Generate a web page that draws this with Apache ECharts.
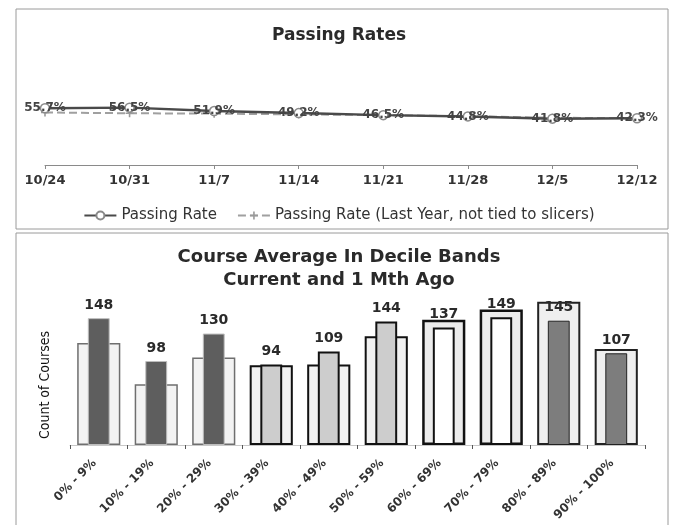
<!DOCTYPE html>
<html><head><meta charset="utf-8">
<script src="https://cdn.jsdelivr.net/npm/echarts@6/dist/echarts.min.js"></script>
<style>html,body{margin:0;padding:0;background:#fff}#c{width:678px;height:525px}</style>
</head><body><div id="c"></div>
<script>
const weeks = ['10/24','10/31','11/7','11/14','11/21','11/28','12/5','12/12'];
const passingRate = [55.7, 56.5, 51.9, 49.2, 46.5, 44.8, 41.8, 42.3];
const passingRateLastYear = [50.0, 49.0, 48.5, 47.5, 46.5, 45.0, 43.0, 42.5];

const bands = ['0% - 9%','10% - 19%','20% - 29%','30% - 39%','40% - 49%','50% - 59%','60% - 69%','70% - 79%','80% - 89%','90% - 100%'];
const current = [148, 98, 130, 94, 109, 144, 137, 149, 145, 107];
const oneMonthAgo = [119, 71, 102, 93, 94, 127, 146, 158, 167, 112];

// style group per band (0: dark, 1: speckled light, 2: white outlined, 3: mid grey)
const bandGroup = [0,0,0,1,1,1,2,2,3,3];
const narrowStyles = [
  {color:'#5e5e5e', borderColor:'#bdbdbd', borderWidth:1},
  {color:'#cdcdcd', borderColor:'#111', borderWidth:2},
  {color:'#ffffff', borderColor:'#111', borderWidth:2},
  {color:'#7d7d7d', borderColor:'#222', borderWidth:1}
];
const wideStyles = [
  {color:'#f3f3f3', borderColor:'#6f6f6f', borderWidth:1.5},
  {color:'#f1f1f1', borderColor:'#111', borderWidth:2},
  {color:'#ececec', borderColor:'#111', borderWidth:2.5},
  {color:'#efefef', borderColor:'#222', borderWidth:2}
];

const chart = echarts.init(document.getElementById('c'), null, {renderer:'canvas'});
chart.setOption({
  backgroundColor:'#fff',
  animation:false,
  title:[
    {text:'Passing Rates', left:'center', top:22, textStyle:{fontFamily:'DejaVu Sans', fontWeight:'bold', fontSize:17, color:'#2a2a2a'}},
    {text:'Course Average In Decile Bands\nCurrent and 1 Mth Ago', left:'center', top:241,
     textStyle:{fontFamily:'DejaVu Sans', fontWeight:'bold', fontSize:18, lineHeight:23, color:'#2a2a2a'}}
  ],
  legend:{
    top:203, left:'center', itemGap:20, itemWidth:32, itemHeight:10,
    textStyle:{fontFamily:'DejaVu Sans', fontSize:15, color:'#333'},
    data:['Passing Rate','Passing Rate (Last Year, not tied to slicers)']
  },
  graphic:[
    {type:'rect', shape:{x:16, y:9, width:652, height:220}, style:{fill:'none', stroke:'#9a9a9a', lineWidth:1}, silent:true, z:-1},
    {type:'rect', shape:{x:16, y:233, width:652, height:300}, style:{fill:'none', stroke:'#9a9a9a', lineWidth:1}, silent:true, z:-1}
  ],
  grid:[
    {left:45, right:41, top:60, bottom:360, outerBoundsMode:'none', containLabel:false},
    {left:70, right:33, top:295, bottom:80, outerBoundsMode:'none', containLabel:false}
  ],
  xAxis:[
    {type:'category', gridIndex:0, data:weeks, boundaryGap:false,
     axisLine:{onZero:false, lineStyle:{color:'#8a8a8a', width:1}},
     axisTick:{show:true, length:4, lineStyle:{color:'#8a8a8a'}},
     axisLabel:{fontFamily:'DejaVu Sans', fontWeight:'bold', fontSize:13, color:'#333', margin:9}},
    {type:'category', gridIndex:1, data:bands,
     axisLine:{onZero:false, lineStyle:{color:'#c8c8c8'}},
     axisTick:{show:true, length:4, lineStyle:{color:'#555'}},
     axisLabel:{rotate:45, fontFamily:'DejaVu Sans', fontWeight:'bold', fontSize:12, color:'#333', margin:12, interval:0, padding:[0,6,0,0]}},
    {type:'category', gridIndex:1, data:bands, show:false}
  ],
  yAxis:[
    {type:'value', gridIndex:0, min:-20, max:120, show:false, splitLine:{show:false}},
    {type:'value', gridIndex:1, min:0, max:175, axisLabel:{show:false}, axisLine:{show:false}, axisTick:{show:false}, splitLine:{show:false},
     name:'Count of Courses', nameLocation:'middle', nameGap:18, nameRotate:90,
     nameTextStyle:{fontFamily:'DejaVu Sans Condensed', fontSize:14, color:'#111', padding:[0,30,0,0]}}
  ],
  series:[
    {name:'Passing Rate (Last Year, not tied to slicers)', type:'line', xAxisIndex:0, yAxisIndex:0, data:passingRateLastYear,
     lineStyle:{color:'#a0a0a0', width:2, type:'dashed'},
     itemStyle:{color:'#9a9a9a'},
     symbol:'path://M4,0h2v4h4v2h-4v4h-2v-4h-4v-2h4z', symbolSize:8, z:2},
    {name:'Passing Rate', type:'line', xAxisIndex:0, yAxisIndex:0, data:passingRate,
     lineStyle:{color:'#4a4a4a', width:2.5},
     itemStyle:{color:'#fff', borderColor:'#8a8a8a', borderWidth:1.5},
     symbol:'circle', symbolSize:9, z:3,
     label:{show:true, position:'inside', formatter:p=>p.value.toFixed(1)+'%',
       fontFamily:'DejaVu Sans', fontWeight:'bold', fontSize:12, color:'#444'}},
    {name:'1 Mth Ago', type:'bar', xAxisIndex:1, yAxisIndex:1, barWidth:'75%',
     data:oneMonthAgo.map((v,i)=>({value:v, itemStyle:wideStyles[bandGroup[i]]}))},
    {name:'Current', type:'bar', xAxisIndex:2, yAxisIndex:1, barWidth:'38%',
     data:current.map((v,i)=>({value:v, itemStyle:narrowStyles[bandGroup[i]]})),
     label:{show:true, position:'top', distance:6, fontFamily:'DejaVu Sans', fontWeight:'bold', fontSize:14, color:'#2a2a2a'}}
  ]
});
</script></body></html>
